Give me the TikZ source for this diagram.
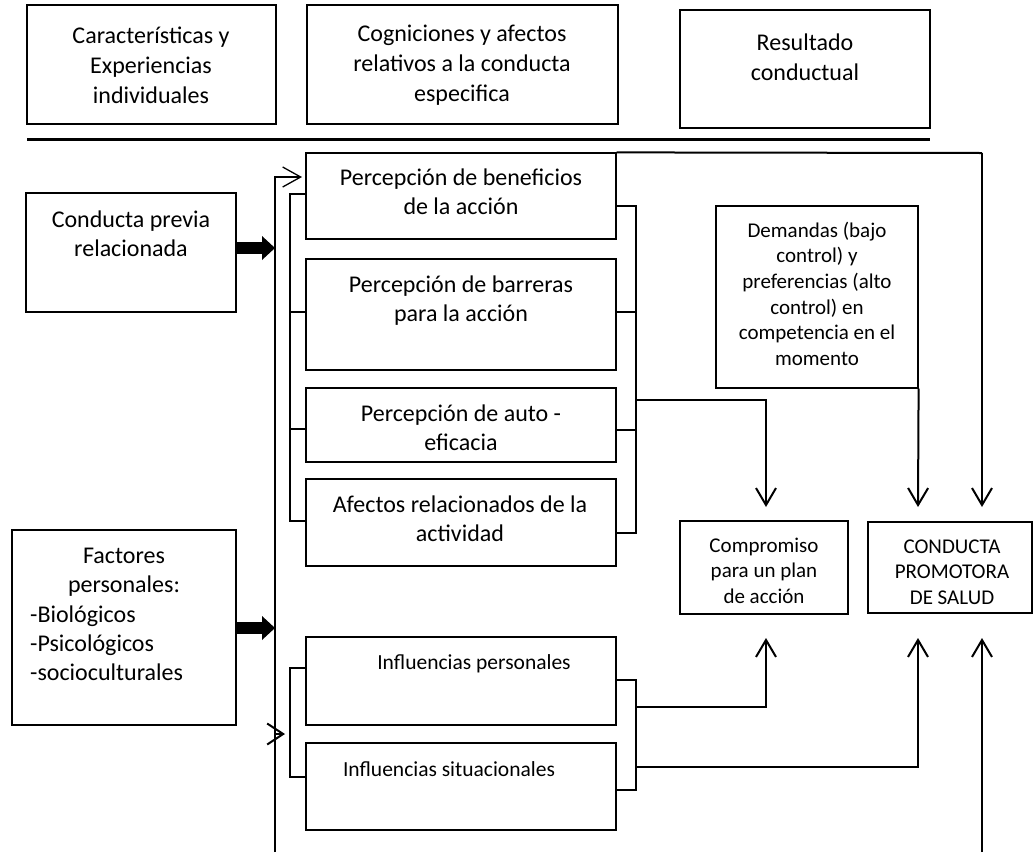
\documentclass[tikz,border=0pt]{standalone}
\usepackage{fontspec}
\setmainfont{Carlito}
\usetikzlibrary{arrows.meta,fit}
\newcommand\dgBig{\fontsize{24}{29}\selectfont}
\newcommand\dgTop{\fontsize{24}{30}\selectfont}
\newcommand\dgMid{\fontsize{21.5}{26}\selectfont}
\newcommand\dgSmall{\fontsize{21}{25.7}\selectfont}
\begin{document}
\begin{tikzpicture}[x=1pt,y=-1pt,
  box/.style={draw, line width=1.2pt, inner sep=0pt},
  txt/.style={inner sep=0pt, align=flush center, anchor=base, font=\dgBig, text width=300pt},
  stxt/.style={inner sep=0pt, align=flush center, anchor=base, font=\dgSmall, text width=200pt},
  link/.style={line width=1.2pt},
  arr/.style={line width=2pt, -{Straight Barb[length=17pt,width=20pt]}},
  tarr/.style={line width=1.3pt, -{Straight Barb[length=18pt,width=20pt]}},
  blk/.style={line width=12pt, -{Triangle[length=13pt,width=24pt,line width=0pt]}}
]
\useasboundingbox (0,0) rectangle (1034,852);

% header boxes
\node[box, fit={(27,5) (276,124)}] (t1) {};
\node[box, fit={(307,5) (618,124)}] (t2) {};
\node[box, fit={(680,10) (930,128)}] (t3) {};
\node[txt, font=\dgTop] (t1t) at (151,43) {Características y\\Experiencias\\individuales};
\node[txt, font=\dgTop] (t2t) at (462,41) {Cogniciones y afectos\\relativos a la conducta\\especifica};
\node[txt, font=\dgTop] (t3t) at (805,50) {Resultado\\conductual};
\draw[line width=3pt] (27,139) -- (930,139);

% left boxes
\node[box, fit={(26,193) (236,312)}] (cp) {};
\node[txt] (cpt) at (131,227) {Conducta previa\\relacionada};
\node[box, fit={(12,530) (236,725)}] (fp) {};
\node[txt] (fpt) at (124,563) {Factores\\personales:};
\node[inner sep=0pt, anchor=base west, align=flush left, font=\dgBig, text width=200pt] (fpl) at (30,622) {-Biológicos\\-Psicológicos\\-socioculturales};

% middle boxes
\node[box, fit={(306,153) (616,239)}] (pb) {};
\node[txt] (pbt) at (461,185) {Percepción de beneficios\\de la acción};
\node[box, fit={(306,259) (616,370)}] (pba) {};
\node[txt] (pbat) at (461,292) {Percepción de barreras\\para la acción};
\node[box, fit={(306,388) (616,462)}] (pae) {};
\node[txt] (paet) at (461,421) {Percepción de auto -\\eficacia};
\node[box, fit={(306,479) (616,566)}] (ar) {};
\node[txt] (art) at (460,512) {Afectos relacionados de la\\actividad};
\node[box, fit={(306,637) (616,725)}] (ip) {};
\node[txt, font=\dgMid] (ipt) at (474,669) {Influencias personales};
\node[box, fit={(306,743) (616,830)}] (is) {};
\node[txt, font=\dgMid] (ist) at (449,776) {Influencias situacionales};

% right boxes
\node[box, fit={(716,206) (918,388)}] (dem) {};
\node[stxt] (demt) at (817,237) {Demandas (bajo\\control) y\\preferencias (alto\\control) en\\competencia en el\\momento};
\node[box, fit={(680,521) (848,614)}] (com) {};
\node[stxt] (comt) at (764,552) {Compromiso\\para un plan\\de acción};
\node[box, fit={(868,522) (1032,613)}] (cps) {};
\node[stxt] (cpst) at (952,553) {CONDUCTA\\PROMOTORA\\DE SALUD};

% coordinates
\coordinate (busT) at (275,177);
\coordinate (busB) at (275,852);
\coordinate (busIn) at (302,177);
\coordinate (a1) at (275,248);
\coordinate (a2) at (275,628);
\coordinate (a3) at (275,734);
\coordinate (a3e) at (285,734);
\coordinate (kin1) at (766,507);
\coordinate (kin2) at (766,638);
\coordinate (cin1) at (918,507);
\coordinate (cin2) at (982,507);
\coordinate (cin3) at (918,638);
\coordinate (cin4) at (982,638);
\coordinate (rb1) at (636,400);
\coordinate (rb2) at (636,707);
\coordinate (rb3) at (636,767);
\coordinate (bottomR) at (982,852);

% bus and inputs
\draw[tarr] (busB) -- (busT) -- (busIn);
\draw[blk] (cp.east |- a1) -- (a1);
\draw[blk] (fp.east |- a2) -- (a2);
\draw[line width=2pt, -{Straight Barb[length=16pt,width=21pt]}] (a3) -- (a3e);

% left brackets
\draw[link] (pb.west |- 0,194) -- (290,194) -- (290,521) -- (ar.west |- 0,521);
\draw[link] (290,312) -- (pba.west |- 0,312);
\draw[link] (290,429) -- (pae.west |- 0,429);
\draw[link] (ip.west |- 0,668) -- (290,668) -- (290,777) -- (is.west |- 0,777);

% right brackets
\draw[link] (pb.east |- 0,206) -- (636,206) -- (636,533) -- (ar.east |- 0,533);
\draw[link] (pba.east |- 0,312) -- (636,312);
\draw[link] (pae.east |- 0,430) -- (636,430);
\draw[link] (ip.east |- 0,680) -- (636,680) -- (636,790) -- (is.east |- 0,790);

% connectors
\draw[link] (rb1) -| (766,420);
\draw[arr] (766,400) -- (kin1);
\draw[link] (rb2) -| (766,680);
\draw[arr] (766,707) -- (kin2);
\draw[link] (rb3) -| (918,700);
\draw[arr] (918,767) -- (cin3);
\draw[arr] (dem.south east) -- (cin1);
\draw[line width=2pt] (pb.north east) -- (982,153);
\draw[arr] (982,153) -- (cin2);
\draw[arr] (bottomR) -- (cin4);
\end{tikzpicture}
\end{document}
